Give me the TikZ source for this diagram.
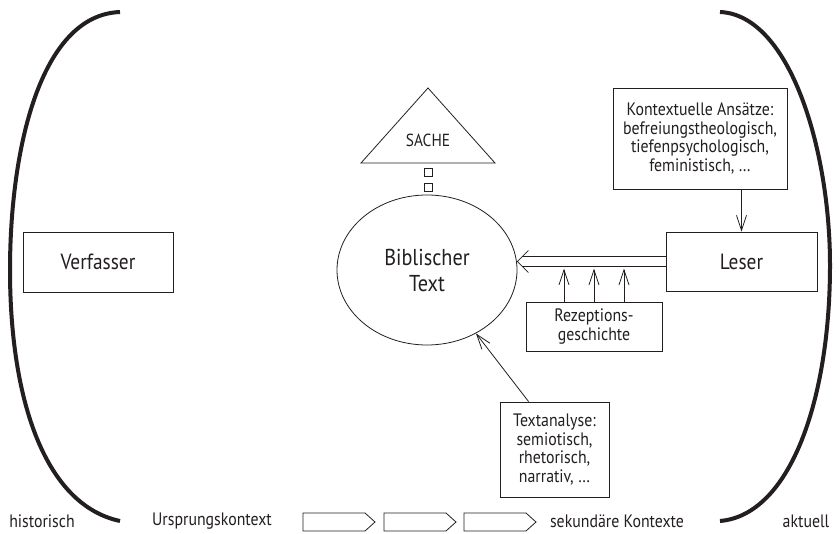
\documentclass[tikz,border=0pt]{standalone}
\usepackage{fontspec}
\setmainfont{PT Sans}[FakeStretch=0.88]
\usetikzlibrary{shapes.geometric,arrows.meta,calc}
\definecolor{ink}{HTML}{231F20}
\tikzset{
  box/.style={draw=ink, line width=0.8pt, rectangle, inner sep=0pt, align=center, text=ink},
  small/.style={font=\fontsize{18}{18.5}\selectfont},
  big/.style={font=\fontsize{22}{26}\selectfont},
  lbl/.style={text=ink, font=\fontsize{18}{18.5}\selectfont, inner sep=0pt},
  paren/.style={draw=ink, line width=4pt},
  conn/.style={draw=ink, line width=0.8pt},
  tip/.style={-{Straight Barb[length=15pt,width=10pt,line width=0.8pt]}},
  sq/.style={draw=ink, line width=0.8pt, minimum size=8pt, inner sep=0pt}
}
\begin{document}
\begin{tikzpicture}[x=1pt,y=-1pt]
\useasboundingbox[fill=white] (0,0) rectangle (840,534);

% parentheses
\draw[paren] (120,12) .. controls (40,15) and (10,150) .. (10,270)
  .. controls (10,400) and (45,505) .. (120,521);
\draw[paren] (720,12) .. controls (790,15) and (830,150) .. (830,265)
  .. controls (830,400) and (790,515) .. (720,521);

% nodes
\node[box, big, minimum width=150pt, minimum height=60pt] (verf) at (98,262) {Verfasser};
\node[box, big, minimum width=151pt, minimum height=59pt] (leser) at (741.5,261.5) {Leser};
\node[draw=ink, line width=0.8pt, ellipse, minimum width=180pt, minimum height=150pt, inner sep=0pt,
  align=center, text=ink, font=\fontsize{23}{26}\selectfont] (bib) at (427,270) {Biblischer\\Text};
\node[box, small, minimum width=174pt, minimum height=101pt] (kon) at (700,138.5)
  {Kontextuelle Ansätze:\\befreiungstheologisch,\\tiefenpsychologisch,\\feministisch, \dots};
\node[box, small, minimum width=136pt, minimum height=49pt] (rez) at (594,326.5)
  {Rezeptions-\\geschichte};
\node[box, small, minimum width=109pt, minimum height=95pt] (ta) at (554.5,449.5)
  {Textanalyse:\\semiotisch,\\rhetorisch,\\narrativ, \dots};

% triangle SACHE
\draw[ink, line width=0.8pt] (361,163) -- (428,88) -- (495,163) -- cycle;
\node[text=ink, font=\fontsize{17.5}{20}\selectfont, inner sep=0pt] (sache) at (428,140) {SACHE};
\node[sq] (sq1) at (428,172) {};
\node[sq] (sq2) at (428,187) {};

% connectors
\draw[conn, tip] (kon.south -| leser.north) -- (leser.north);
\foreach \dx in {-30,0,30}
  \draw[conn, tip] ($(rez.north)+(\dx,0)$) -- ($(rez.north)+(\dx,-33)$);
\draw[conn, tip] ($(ta.north west)+(29,0)$) -- (bib);

% double arrow Leser -> Text
\coordinate (dtip) at (bib.east |- leser.west);
\draw[conn] ($(leser.west)+(0,-5)$) -- ($(dtip)+(5,-5)$);
\draw[conn] ($(leser.west)+(0,5)$) -- ($(dtip)+(5,5)$);
\draw[conn] ($(dtip)+(11,-11)$) -- (dtip) -- ($(dtip)+(11,11)$);

% bottom row
\node[lbl] (hist) at (42,521) {historisch};
\node[lbl] (urs) at (212,521) {Ursprungskontext};
\node[lbl] (sek) at (617,521) {sekundäre Kontexte};
\node[lbl] (akt) at (806,521) {aktuell};
\foreach \x in {303,384,464}
  \draw[conn] (\x,513) -- ++(62,0) -- ++(10,9) -- ++(-10,9) -- ++(-62,0) -- cycle;
\end{tikzpicture}
\end{document}
